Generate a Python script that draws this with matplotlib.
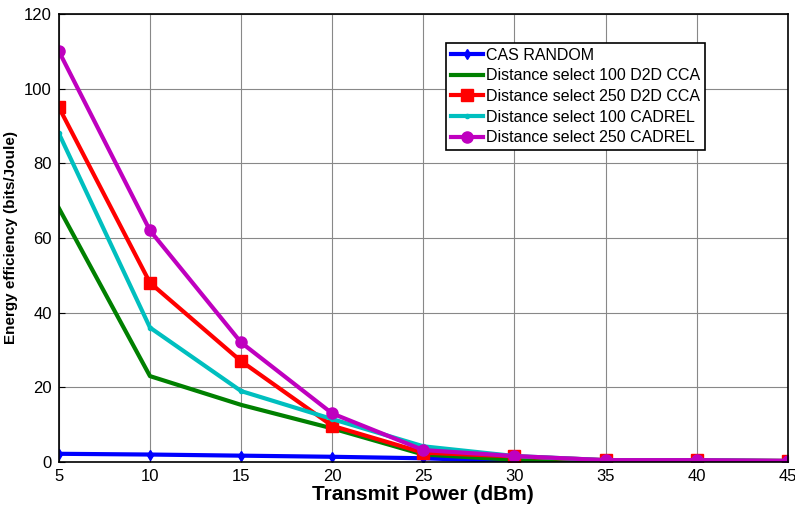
import matplotlib.pyplot as plt

# ---------------------------
# Data
# ---------------------------
power = [5, 10, 15, 20, 25, 30, 35, 40, 45]
cas_random = [2.2, 2.0, 1.7, 1.4, 1.0, 0.2, 0.2, 0.2, 0.2]
ds100_d2d = [68, 23, 15.3, 9.0, 2.0, 0.6, 0.3, 0.3, 0.2]
ds250_d2d = [95, 48, 27, 9.7, 2.5, 1.5, 0.5, 0.5, 0.3]
ds100_cadrel = [88, 36, 19, 11.5, 4.2, 1.6, 0.5, 0.5, 0.3]
ds250_cadrel = [110, 62, 32, 13, 3.2, 1.6, 0.5, 0.5, 0.3]

plt.rcParams['font.family'] = ['Liberation Sans', 'DejaVu Sans']

fig = plt.figure(figsize=(7.95, 5.13), dpi=100)
ax = fig.add_axes([0.074, 0.0994, 0.917, 0.8736])

lw = 3
ax.plot(power, cas_random, color='#0000ff', lw=lw, marker='d', ms=5, label='CAS RANDOM')
ax.plot(power, ds100_d2d, color='#008000', lw=lw, label='Distance select 100 D2D CCA')
ax.plot(power, ds250_d2d, color='#ff0000', lw=lw, marker='s', ms=8, label='Distance select 250 D2D CCA')
ax.plot(power, ds100_cadrel, color='#00bfbf', lw=lw, marker='.', ms=6, label='Distance select 100 CADREL')
ax.plot(power, ds250_cadrel, color='#bf00bf', lw=lw, marker='o', ms=8, label='Distance select 250 CADREL')

ax.set_xlim(5, 45)
ax.set_ylim(0, 120)
ax.set_xticks(power)
ax.set_yticks(range(0, 121, 20))
ax.tick_params(direction='in', labelsize=12, length=4, pad=5)
ax.grid(True, color='#888888', lw=0.8)
for s in ax.spines.values():
    s.set_linewidth(1.2)

ax.set_xlabel('Transmit Power (dBm)', fontsize=15, fontweight='bold', labelpad=1)
ax.set_ylabel('Energy efficiency (bits/Joule)', fontsize=11, fontweight='bold')
ax.yaxis.set_label_coords(-0.056, 0.5)

leg = ax.legend(loc='upper right', bbox_to_anchor=(0.886, 0.935), fontsize=11.5,
                fancybox=False, framealpha=1, edgecolor='black', handlelength=2.0,
                handletextpad=0.2, borderpad=0.3, labelspacing=0.35, borderaxespad=0)
leg.get_frame().set_linewidth(1.2)

plt.savefig('out.png', dpi=100)
